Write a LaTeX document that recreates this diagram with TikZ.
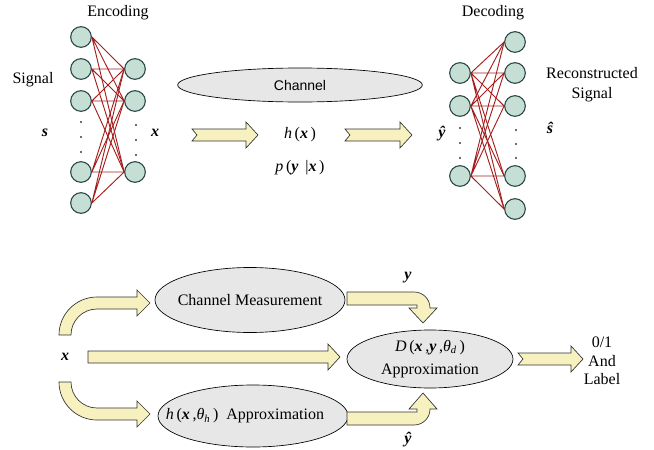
\documentclass[tikz,border=0pt]{standalone}
\usepackage{fontspec}
\setmainfont{Liberation Serif}
\newfontfamily\chanfont{Liberation Sans}
\usetikzlibrary{shapes.geometric}
\definecolor{neuronfill}{RGB}{197,223,213}
\definecolor{neurondraw}{RGB}{40,68,68}
\definecolor{wirered}{RGB}{165,30,30}
\definecolor{arrowfill}{RGB}{247,241,192}
\definecolor{ellfill}{RGB}{231,231,231}
\newcommand{\bfit}[1]{\textbf{\textit{#1}}}
\begin{document}
\begin{tikzpicture}[x=0.75pt,y=-0.75pt,font=\fontsize{12}{14}\selectfont,
  neuron/.style={circle,draw=neurondraw,fill=neuronfill,line width=0.8pt,minimum size=15.5pt,inner sep=0pt},
  wire/.style={draw=wirered,line width=0.7pt},
  ell/.style={ellipse,draw,fill=ellfill,line width=0.5pt,inner sep=0pt},
  blockarr/.style={draw=black!80,fill=arrowfill,line width=0.5pt,line join=miter}]
\useasboundingbox (0,0) rectangle (654,450);
\def\nn#1#2#3{\node[neuron] (#1) at (#2,#3) {};}
\def\vdot#1#2{\fill[neurondraw] (#1,#2) circle (0.8pt);}
\def\barrow#1#2#3#4{
\filldraw[blockarr] (#1,#3-6) -- (#2-12,#3-6) -- (#2-12,#3-13) -- (#2,#3)
  -- (#2-12,#3+13) -- (#2-12,#3+6) -- (#1,#3+6) -- (#1+#4,#3) -- cycle;
}
\nn{s1}{81}{37}
\nn{s2}{81}{69}
\nn{s3}{81}{101}
\nn{s4}{81}{172}
\nn{s5}{81}{203}
\nn{x1}{135}{69}
\nn{x2}{135}{101}
\nn{x3}{135}{172}
\nn{y1}{460}{73}
\nn{y2}{460}{106}
\nn{y3}{460}{176}
\nn{r1}{515}{42}
\nn{r2}{515}{73}
\nn{r3}{515}{106}
\nn{r4}{515}{176}
\nn{r5}{515}{209}
\def\enc#1{\draw[wire] (#1.east) -- (x1.west) (#1.east) -- (x2.west) (#1.east) -- (x3.west);}
\enc{s1}
\enc{s2}
\enc{s3}
\enc{s4}
\enc{s5}
\def\dec#1{\draw[wire] (#1.east) -- (r1.west) (#1.east) -- (r2.west) (#1.east) -- (r3.west)
  (#1.east) -- (r4.west) (#1.east) -- (r5.west);}
\dec{y1}
\dec{y2}
\dec{y3}
\vdot{81}{122}\vdot{81}{137}\vdot{81}{152}
\vdot{136}{125}\vdot{136}{140}\vdot{136}{155}
\vdot{460}{128}\vdot{460}{143}\vdot{460}{158}
\vdot{516}{130}\vdot{516}{144}\vdot{516}{158}
\node (enc) at (118,13) {Encoding};
\node (sig) at (33,80) {Signal};
\node (s) at (45,133) {\bfit{s}};
\node (x) at (155,133) {\bfit{x}};
\node (deco) at (493,13) {Decoding};
\node[align=center,font=\fontsize{12}{15}\selectfont] (rec) at (592,85) {Reconstructed\\Signal};
\node (shat) at (550,128) {\bfit{ŝ}};
\node (yhat) at (442,134) {\bfit{ŷ}};
\node[ell,minimum width=183.5pt,minimum height=25.5pt] (chan) at (300,85)
  {\chanfont\fontsize{10.5}{12}\selectfont Channel};
\node (hx) at (300,135) {\textit{h}\,(\bfit{x}\,)};
\node (pyx) at (300,168) {\textit{p}\,(\bfit{y}\ \,|\bfit{x}\,)};
\barrow{192}{258}{135}{5}
\barrow{345}{412}{135}{5}
\node[ell,minimum width=142.5pt,minimum height=48.75pt] (meas) at (250,300) {};
\node at (meas) {Channel Measurement};
\node[ell,minimum width=142.5pt,minimum height=46.5pt] (happ) at (253,416) {};
\node at (245,416) {\textit{h}\,(\bfit{x}\,,\textit{θ}\textsubscript{\textit{h}}\,)\ \ Approximation};
\node[ell,minimum width=124.5pt,minimum height=43.5pt,align=center] (dapp) at (430,359)
  {\textit{D}\,(\bfit{x}\,,\bfit{y}\,,\textit{θ}\textsubscript{\textit{d}}\,)\\[3pt]Approximation};
\node (xin) at (65,357) {\bfit{x}};
\node (ylab) at (408,278) {\bfit{y}};
\node (yhlab) at (408,440) {\bfit{ŷ}};
\node[align=center] (out) at (602,361) {0/1\\And\\Label};
\barrow{88}{340}{357}{0}
\barrow{518}{583}{359}{5}
\filldraw[blockarr] (59,335) .. controls (59,314) and (76,297) .. (97,297) -- (137,297) -- (137,290)
  -- (150,303) -- (137,316) -- (137,309) -- (97,309) .. controls (82.6,309) and (71,320.6) .. (71,335) -- cycle;
\filldraw[blockarr] (59,382) .. controls (59,403) and (76,420) .. (97,420) -- (137,420) -- (137,427)
  -- (150,414) -- (137,401) -- (137,408) -- (97,408) .. controls (82.6,408) and (71,396.4) .. (71,382) -- cycle;
\filldraw[blockarr] (347,292) -- (414,292) .. controls (423,292) and (430,299) .. (430,308) -- (437,308)
  -- (423,323) -- (409,308) -- (417,308) -- (417,305) -- (347,305) -- cycle;
\filldraw[blockarr] (347,425) -- (414,425) .. controls (423,425) and (430,418) .. (430,409) -- (437,409)
  -- (423,393) -- (409,409) -- (417,409) -- (417,412) -- (347,412) -- cycle;
\end{tikzpicture}
\end{document}
